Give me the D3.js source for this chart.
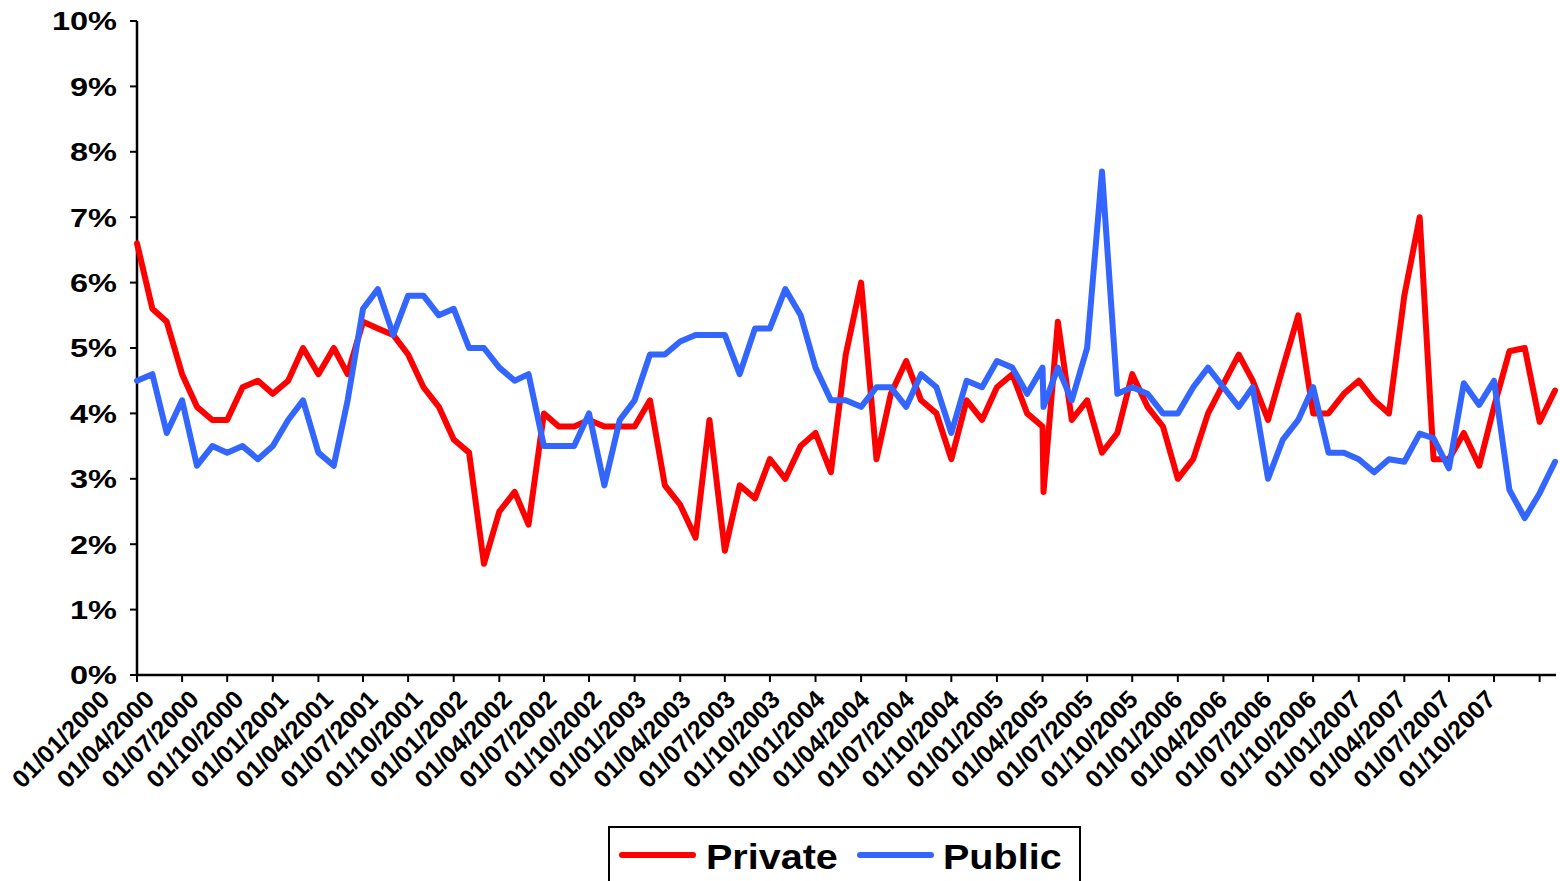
<!DOCTYPE html>
<html>
<head>
<meta charset="utf-8">
<script src="https://cdn.jsdelivr.net/npm/d3@7"></script>
<style>
  html, body { margin: 0; padding: 0; background: #fff; }
  svg { display: block; font-family: "Liberation Sans", Arial, sans-serif; font-weight: bold; }
</style>
</head>
<body>
<svg id="chart" width="1560" height="881"></svg>
<script>
// ---- data (monthly, Jan 2000 - Nov 2007; one extra early-January 2005 reading) ----
const dates = [
  "2000-01-01","2000-02-01","2000-03-01","2000-04-01","2000-05-01","2000-06-01","2000-07-01","2000-08-01","2000-09-01","2000-10-01","2000-11-01","2000-12-01",
  "2001-01-01","2001-02-01","2001-03-01","2001-04-01","2001-05-01","2001-06-01","2001-07-01","2001-08-01","2001-09-01","2001-10-01","2001-11-01","2001-12-01",
  "2002-01-01","2002-02-01","2002-03-01","2002-04-01","2002-05-01","2002-06-01","2002-07-01","2002-08-01","2002-09-01","2002-10-01","2002-11-01","2002-12-01",
  "2003-01-01","2003-02-01","2003-03-01","2003-04-01","2003-05-01","2003-06-01","2003-07-01","2003-08-01","2003-09-01","2003-10-01","2003-11-01","2003-12-01",
  "2004-01-01","2004-02-01","2004-03-01","2004-04-01","2004-05-01","2004-06-01","2004-07-01","2004-08-01","2004-09-01","2004-10-01","2004-11-01","2004-12-01",
  "2005-01-01","2005-01-03","2005-02-01","2005-03-01","2005-04-01","2005-05-01","2005-06-01","2005-07-01","2005-08-01","2005-09-01","2005-10-01","2005-11-01","2005-12-01",
  "2006-01-01","2006-02-01","2006-03-01","2006-04-01","2006-05-01","2006-06-01","2006-07-01","2006-08-01","2006-09-01","2006-10-01","2006-11-01","2006-12-01",
  "2007-01-01","2007-02-01","2007-03-01","2007-04-01","2007-05-01","2007-06-01","2007-07-01","2007-08-01","2007-09-01","2007-10-01","2007-11-01"
];
const privateVals = [
  6.6, 5.6, 5.4, 4.6, 4.1, 3.9, 3.9, 4.4, 4.5, 4.3, 4.5, 5.0,
  4.6, 5.0, 4.6, 5.4, 5.3, 5.2, 4.9, 4.4, 4.1, 3.6, 3.4, 1.7,
  2.5, 2.8, 2.3, 4.0, 3.8, 3.8, 3.9, 3.8, 3.8, 3.8, 4.2, 2.9,
  2.6, 2.1, 3.9, 1.9, 2.9, 2.7, 3.3, 3.0, 3.5, 3.7, 3.1, 4.9,
  6.0, 3.3, 4.3, 4.8, 4.2, 4.0, 3.3, 4.2, 3.9, 4.4, 4.6, 4.0,
  3.8, 2.8, 5.4, 3.9, 4.2, 3.4, 3.7, 4.6, 4.1, 3.8, 3.0, 3.3, 4.0,
  4.45, 4.9, 4.5, 3.9, 4.7, 5.5, 4.0, 4.0, 4.3, 4.5, 4.2, 4.0,
  5.8, 7.0, 3.3, 3.3, 3.7, 3.2, 4.1, 4.95, 5.0, 3.87, 4.35
];
const publicVals = [
  4.5, 4.6, 3.7, 4.2, 3.2, 3.5, 3.4, 3.5, 3.3, 3.5, 3.9, 4.2,
  3.4, 3.2, 4.2, 5.6, 5.9, 5.2, 5.8, 5.8, 5.5, 5.6, 5.0, 5.0,
  4.7, 4.5, 4.6, 3.5, 3.5, 3.5, 4.0, 2.9, 3.9, 4.2, 4.9, 4.9,
  5.1, 5.2, 5.2, 5.2, 4.6, 5.3, 5.3, 5.9, 5.5, 4.7, 4.2, 4.2,
  4.1, 4.4, 4.4, 4.1, 4.6, 4.4, 3.7, 4.5, 4.4, 4.8, 4.7, 4.3,
  4.7, 4.1, 4.7, 4.2, 5.0, 7.7, 4.3, 4.4, 4.3, 4.0, 4.0, 4.4, 4.7,
  4.4, 4.1, 4.4, 3.0, 3.6, 3.9, 4.4, 3.4, 3.4, 3.3, 3.1, 3.3,
  3.26, 3.69, 3.62, 3.16, 4.46, 4.13, 4.5, 2.83, 2.4, 2.78, 3.26
];
const xTickLabels = [
  "01/01/2000","01/04/2000","01/07/2000","01/10/2000",
  "01/01/2001","01/04/2001","01/07/2001","01/10/2001",
  "01/01/2002","01/04/2002","01/07/2002","01/10/2002",
  "01/01/2003","01/04/2003","01/07/2003","01/10/2003",
  "01/01/2004","01/04/2004","01/07/2004","01/10/2004",
  "01/01/2005","01/04/2005","01/07/2005","01/10/2005",
  "01/01/2006","01/04/2006","01/07/2006","01/10/2006",
  "01/01/2007","01/04/2007","01/07/2007","01/10/2007"
];
const yTickValues = [0, 1, 2, 3, 4, 5, 6, 7, 8, 9, 10];
const seriesNames = ["Private", "Public"];
const seriesColors = ["#ff0000", "#3366ff"];

// ---- layout ----
const svg = d3.select("#chart");
const plotL = 137, plotR = 1555, plotT = 21, plotB = 675;
const parseISO = d3.timeParse("%Y-%m-%d");
const parseLbl = d3.timeParse("%d/%m/%Y");
const dateObjs = dates.map(parseISO);

const x = d3.scaleTime().domain([dateObjs[0], dateObjs[dateObjs.length - 1]]).range([plotL, plotR]);
const y = d3.scaleLinear().domain([0, 10]).range([plotB, plotT]);
// label anchors (Excel spreads the rotated labels evenly)
const xLabelPos = d3.scalePoint().domain(xTickLabels).range([111, 1497]);

svg.append("rect").attr("width", 1560).attr("height", 881).attr("fill", "#fff");

// ---- axes ----
const yAxis = svg.append("g").attr("transform", `translate(${plotL},0)`);
yAxis.append("line").attr("x1", 0).attr("x2", 0).attr("y1", plotT).attr("y2", plotB)
  .attr("stroke", "#000").attr("stroke-width", 2.5);
yTickValues.forEach(v => {
  yAxis.append("line").attr("x1", -7).attr("x2", 0).attr("y1", y(v)).attr("y2", y(v))
    .attr("stroke", "#000").attr("stroke-width", 2);
  yAxis.append("text")
    .attr("transform", `translate(-20,${y(v)}) scale(1.25,1)`)
    .attr("text-anchor", "end").attr("dy", "0.36em")
    .attr("font-size", 26).attr("fill", "#000")
    .text(v + "%");
});

const xAxis = svg.append("g");
xAxis.append("line").attr("x1", plotL).attr("x2", plotR + 1).attr("y1", plotB).attr("y2", plotB)
  .attr("stroke", "#000").attr("stroke-width", 2.5);
xTickLabels.forEach(lbl => {
  const tx = x(parseLbl(lbl));
  xAxis.append("line").attr("x1", tx).attr("x2", tx).attr("y1", plotB).attr("y2", plotB + 7)
    .attr("stroke", "#000").attr("stroke-width", 2);
  xAxis.append("text")
    .attr("transform", `translate(${xLabelPos(lbl)},${plotB + 26}) rotate(-45)`)
    .attr("text-anchor", "end")
    .attr("font-size", 25).attr("fill", "#000")
    .text(lbl);
});

// ---- lines ----
const line = d3.line().x((d, i) => x(dateObjs[i])).y(d => y(d));
[privateVals, publicVals].forEach((vals, k) => {
  svg.append("path").datum(vals)
    .attr("d", line)
    .attr("fill", "none")
    .attr("stroke", seriesColors[k])
    .attr("stroke-width", 6)
    .attr("stroke-linejoin", "round")
    .attr("stroke-linecap", "round");
});

// ---- legend ----
const lg = svg.append("g");
lg.append("rect").attr("x", 609).attr("y", 827).attr("width", 471).attr("height", 70)
  .attr("fill", "#fff").attr("stroke", "#000").attr("stroke-width", 2);
const legendItems = [
  { sx: 622, tx: 706 },
  { sx: 860, tx: 943 }
];
legendItems.forEach((it, k) => {
  lg.append("line").attr("x1", it.sx).attr("x2", it.sx + 71).attr("y1", 855).attr("y2", 855)
    .attr("stroke", seriesColors[k]).attr("stroke-width", 6).attr("stroke-linecap", "round");
  lg.append("text")
    .attr("transform", `translate(${it.tx},869) scale(1.13,1)`)
    .attr("font-size", 35).attr("fill", "#000")
    .text(seriesNames[k]);
});
</script>
</body>
</html>
